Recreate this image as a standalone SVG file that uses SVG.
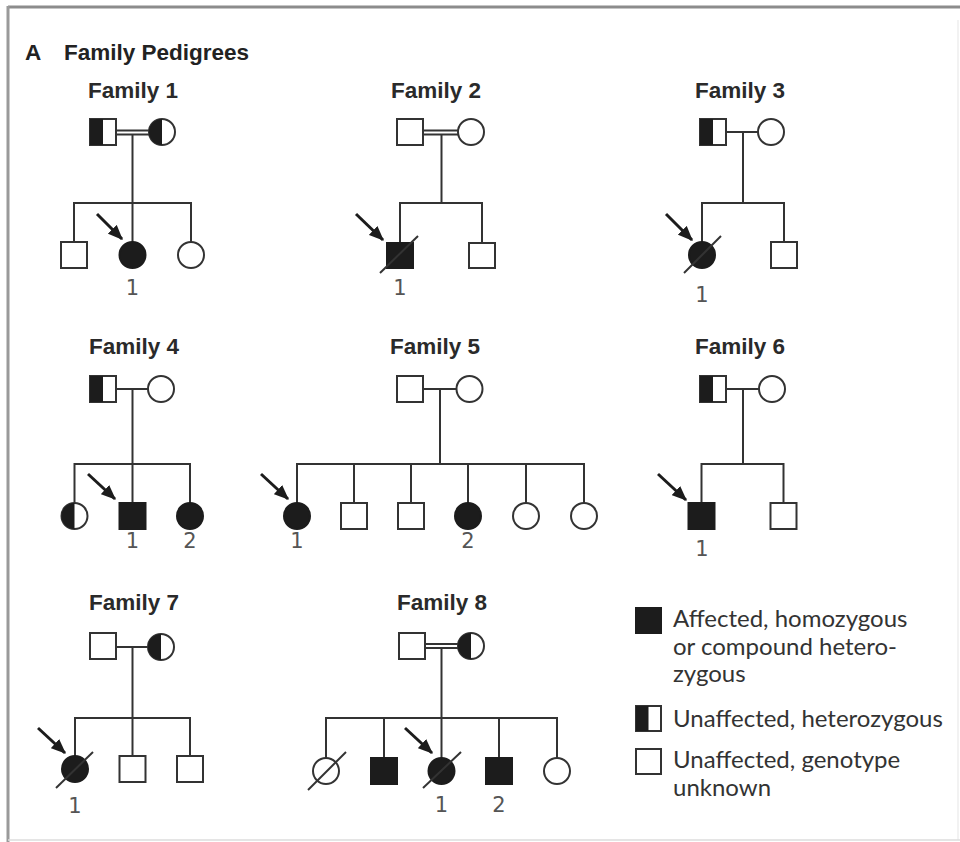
<svg xmlns="http://www.w3.org/2000/svg" width="960" height="842" viewBox="0 0 960 842">
<style>
.bg{fill:#fff}
.ln{stroke:#333;stroke-width:2;fill:none}
.o{fill:#fff;stroke:#333;stroke-width:2}
.f{fill:#1c1c1c;stroke:#1c1c1c;stroke-width:2}
.h{fill:#1c1c1c}
.dg{stroke:#333;stroke-width:2}
.ar{stroke:#1c1c1c;stroke-width:3;marker-end:url(#ah)}
.ttl{font-family:"Liberation Sans",Arial,sans-serif;font-weight:bold;font-size:22.5px;fill:#2a2a2a;text-anchor:middle}
.hd{font-family:"Liberation Sans",Arial,sans-serif;font-weight:bold;font-size:22.5px;fill:#222}
.num{font-family:"DejaVu Sans",sans-serif;font-size:21px;fill:#555;text-anchor:middle}
.lg{font-family:Lato,"Liberation Sans",sans-serif;font-size:24px;fill:#333}
</style>
<defs>
<marker id="ah" viewBox="0 0 12 10" refX="11" refY="5" markerWidth="15" markerHeight="13" markerUnits="userSpaceOnUse" orient="auto"><path d="M0,0 L12,5 L0,10 z" fill="#1c1c1c"/></marker>
</defs>
<rect class="bg" x="0" y="0" width="960" height="842"/>
<g id="frame">
<line x1="8" y1="7" x2="960" y2="7" stroke="#8c8c8c" stroke-width="3"/>
<line x1="8" y1="6" x2="8" y2="842" stroke="#9a9a9a" stroke-width="3"/>
<line x1="958" y1="20" x2="958" y2="840" stroke="#eeeeee" stroke-width="1.5"/>
<line x1="8" y1="840" x2="960" y2="840" stroke="#dddddd" stroke-width="1.5"/>
</g>
<text class="hd" x="25" y="60">A</text>
<text class="hd" x="64" y="60">Family Pedigrees</text>

<g id="connectors">
<!-- F1 -->
<line class="ln" x1="116" y1="130.5" x2="149" y2="130.5"/>
<line class="ln" x1="116" y1="134.5" x2="149" y2="134.5"/>
<line class="ln" x1="132.5" y1="134.5" x2="132.5" y2="242"/>
<line class="ln" x1="74" y1="203" x2="191" y2="203"/>
<line class="ln" x1="74" y1="202" x2="74" y2="242"/>
<line class="ln" x1="191" y1="202" x2="191" y2="242"/>
<!-- F2 -->
<line class="ln" x1="423" y1="130.5" x2="458" y2="130.5"/>
<line class="ln" x1="423" y1="134.5" x2="458" y2="134.5"/>
<line class="ln" x1="441.5" y1="134.5" x2="441.5" y2="203"/>
<line class="ln" x1="400" y1="203" x2="482" y2="203"/>
<line class="ln" x1="400" y1="202" x2="400" y2="243"/>
<line class="ln" x1="482" y1="202" x2="482" y2="243"/>
<!-- F3 -->
<line class="ln" x1="726" y1="132" x2="758" y2="132"/>
<line class="ln" x1="743" y1="132" x2="743" y2="203"/>
<line class="ln" x1="702" y1="203" x2="784" y2="203"/>
<line class="ln" x1="702" y1="202" x2="702" y2="242"/>
<line class="ln" x1="784" y1="202" x2="784" y2="242"/>
<!-- F4 -->
<line class="ln" x1="116" y1="389" x2="148" y2="389"/>
<line class="ln" x1="132.5" y1="389" x2="132.5" y2="503"/>
<line class="ln" x1="74.5" y1="464" x2="190" y2="464"/>
<line class="ln" x1="74.5" y1="463" x2="74.5" y2="503"/>
<line class="ln" x1="190" y1="463" x2="190" y2="503"/>
<!-- F5 -->
<line class="ln" x1="423" y1="389" x2="456.5" y2="389"/>
<line class="ln" x1="440" y1="389" x2="440" y2="464"/>
<line class="ln" x1="297" y1="464" x2="584" y2="464"/>
<line class="ln" x1="297" y1="463" x2="297" y2="503"/>
<line class="ln" x1="354" y1="463" x2="354" y2="503"/>
<line class="ln" x1="411" y1="463" x2="411" y2="503"/>
<line class="ln" x1="468" y1="463" x2="468" y2="503"/>
<line class="ln" x1="526" y1="463" x2="526" y2="503"/>
<line class="ln" x1="584" y1="463" x2="584" y2="503"/>
<!-- F6 -->
<line class="ln" x1="727" y1="389" x2="759" y2="389"/>
<line class="ln" x1="743" y1="389" x2="743" y2="464"/>
<line class="ln" x1="701.5" y1="464" x2="783.5" y2="464"/>
<line class="ln" x1="701.5" y1="463" x2="701.5" y2="503"/>
<line class="ln" x1="783.5" y1="463" x2="783.5" y2="503"/>
<!-- F7 -->
<line class="ln" x1="117" y1="647" x2="148" y2="647"/>
<line class="ln" x1="132.5" y1="647" x2="132.5" y2="756"/>
<line class="ln" x1="75" y1="718" x2="190" y2="718"/>
<line class="ln" x1="75" y1="717" x2="75" y2="756"/>
<line class="ln" x1="190" y1="717" x2="190" y2="756"/>
<!-- F8 -->
<line class="ln" x1="426" y1="644" x2="458" y2="644"/>
<line class="ln" x1="426" y1="648" x2="458" y2="648"/>
<line class="ln" x1="441.5" y1="648" x2="441.5" y2="758"/>
<line class="ln" x1="326" y1="718" x2="557" y2="718"/>
<line class="ln" x1="326" y1="717" x2="326" y2="758"/>
<line class="ln" x1="384" y1="717" x2="384" y2="758"/>
<line class="ln" x1="499" y1="717" x2="499" y2="758"/>
<line class="ln" x1="557" y1="717" x2="557" y2="758"/>
<!-- proband arrows -->
<line class="ar" x1="97" y1="214" x2="122" y2="239"/>
<line class="ar" x1="356" y1="214" x2="383" y2="240"/>
<line class="ar" x1="666" y1="214" x2="692" y2="240"/>
<line class="ar" x1="88" y1="474" x2="115" y2="499"/>
<line class="ar" x1="261" y1="474" x2="288" y2="499"/>
<line class="ar" x1="658" y1="474" x2="686" y2="500"/>
<line class="ar" x1="38" y1="728" x2="65" y2="753"/>
<line class="ar" x1="405" y1="728" x2="432" y2="753"/>
</g>

<g id="family1">
<text class="ttl" x="133" y="98">Family 1</text>
<rect class="o" x="90" y="119" width="26" height="26"/><rect class="h" x="90" y="119" width="13" height="26"/>
<circle class="o" cx="162" cy="132" r="13"/><path class="h" d="M162,119 A13,13 0 0,0 162,145 Z"/>
<rect class="o" x="61" y="242" width="26" height="26"/>
<circle class="f" cx="132.5" cy="255" r="13"/>
<circle class="o" cx="191" cy="255" r="13"/>
<text class="num" x="132.5" y="295">1</text>
</g>

<g id="family2">
<text class="ttl" x="436" y="98">Family 2</text>
<rect class="o" x="397" y="119" width="26" height="26"/>
<circle class="o" cx="471" cy="132" r="13"/>
<rect class="f" x="387" y="243" width="26" height="25"/>
<line class="dg" x1="380" y1="273" x2="418" y2="236"/>
<rect class="o" x="469" y="243" width="26" height="25"/>
<text class="num" x="400" y="295">1</text>
</g>

<g id="family3">
<text class="ttl" x="740" y="98">Family 3</text>
<rect class="o" x="700" y="119" width="26" height="26"/><rect class="h" x="700" y="119" width="13" height="26"/>
<circle class="o" cx="771" cy="132" r="13"/>
<circle class="f" cx="702" cy="255" r="13"/>
<line class="dg" x1="684" y1="273" x2="721" y2="236"/>
<rect class="o" x="771" y="242" width="26" height="26"/>
<text class="num" x="702" y="302">1</text>
</g>

<g id="family4">
<text class="ttl" x="134" y="354">Family 4</text>
<rect class="o" x="90" y="376" width="26" height="26"/><rect class="h" x="90" y="376" width="13" height="26"/>
<circle class="o" cx="161" cy="389" r="13"/>
<circle class="o" cx="74.5" cy="516" r="13"/><path class="h" d="M74.5,503 A13,13 0 0,0 74.5,529 Z"/>
<rect class="f" x="119.5" y="503" width="26" height="26"/>
<circle class="f" cx="190" cy="516" r="13"/>
<text class="num" x="132.5" y="548">1</text>
<text class="num" x="190" y="548">2</text>
</g>

<g id="family5">
<text class="ttl" x="435" y="354">Family 5</text>
<rect class="o" x="397" y="376" width="26" height="26"/>
<circle class="o" cx="469.5" cy="389" r="13"/>
<circle class="f" cx="297" cy="516" r="13"/>
<rect class="o" x="341" y="503" width="26" height="26"/>
<rect class="o" x="398" y="503" width="26" height="26"/>
<circle class="f" cx="468" cy="516" r="13"/>
<circle class="o" cx="526" cy="516" r="13"/>
<circle class="o" cx="584" cy="516" r="13"/>
<text class="num" x="297" y="548">1</text>
<text class="num" x="468" y="548">2</text>
</g>

<g id="family6">
<text class="ttl" x="740" y="354">Family 6</text>
<rect class="o" x="700" y="376" width="26" height="26"/><rect class="h" x="700" y="376" width="13" height="26"/>
<circle class="o" cx="772" cy="389" r="13"/>
<rect class="f" x="688.5" y="503" width="26" height="26"/>
<rect class="o" x="770.5" y="503" width="26" height="26"/>
<text class="num" x="702" y="556">1</text>
</g>

<g id="family7">
<text class="ttl" x="134" y="610">Family 7</text>
<rect class="o" x="90" y="633" width="26" height="26"/>
<circle class="o" cx="161" cy="647" r="13"/><path class="h" d="M161,634 A13,13 0 0,0 161,660 Z"/>
<circle class="f" cx="75" cy="769" r="13"/>
<line class="dg" x1="56" y1="788" x2="93" y2="752"/>
<rect class="o" x="119.5" y="756" width="26" height="26"/>
<rect class="o" x="177" y="756" width="26" height="26"/>
<text class="num" x="75" y="813">1</text>
</g>

<g id="family8">
<text class="ttl" x="442" y="610">Family 8</text>
<rect class="o" x="399" y="633" width="26" height="26"/>
<circle class="o" cx="471" cy="646" r="13"/><path class="h" d="M471,633 A13,13 0 0,0 471,659 Z"/>
<circle class="o" cx="326" cy="771" r="13"/>
<line class="dg" x1="308" y1="790" x2="346" y2="752"/>
<rect class="f" x="371" y="758" width="26" height="26"/>
<circle class="f" cx="441.5" cy="771" r="13"/>
<line class="dg" x1="423" y1="788" x2="461" y2="752"/>
<rect class="f" x="486" y="758" width="26" height="26"/>
<circle class="o" cx="557" cy="771" r="13"/>
<text class="num" x="441.5" y="812">1</text>
<text class="num" x="499" y="812">2</text>
</g>

<g id="legend">
<rect class="f" x="636" y="608" width="25" height="25"/>
<text class="lg" x="673" y="627">Affected, homozygous</text>
<text class="lg" x="673" y="655">or compound hetero-</text>
<text class="lg" x="673" y="682">zygous</text>
<rect class="o" x="636" y="706" width="25" height="25"/><rect class="h" x="636" y="706" width="12.5" height="25"/>
<text class="lg" x="673" y="727">Unaffected, heterozygous</text>
<rect class="o" x="636" y="749" width="25" height="25"/>
<text class="lg" x="673" y="768">Unaffected, genotype</text>
<text class="lg" x="673" y="796">unknown</text>
</g>
</svg>
